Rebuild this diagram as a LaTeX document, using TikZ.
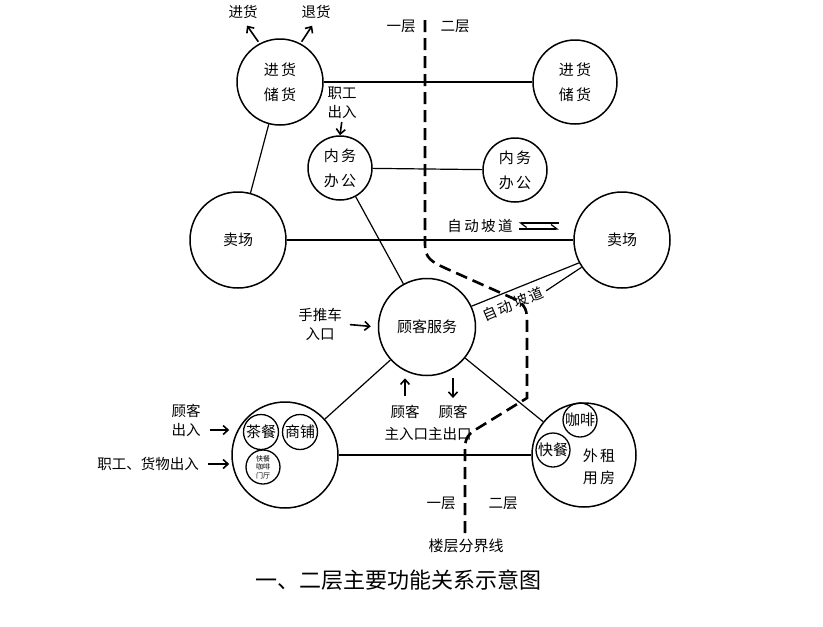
\documentclass[tikz,border=0pt]{standalone}
\usepackage{fontspec}
\setmainfont{Noto Sans CJK SC}
\usetikzlibrary{arrows.meta,positioning}

\begin{document}
\begin{tikzpicture}[
  x=1pt, y=-1pt,
  zone/.style={draw, circle, line width=1.5pt, inner sep=0pt, align=center, font=\fontsize{15}{25}\selectfont},
  sub/.style={draw, circle, line width=1.3pt, inner sep=0pt, align=center, minimum size=35pt, font=\fontsize{15}{15}\selectfont},
  lbl/.style={align=center, inner sep=1pt, font=\fontsize{14.5}{19}\selectfont},
  link/.style={line width=1.2pt},
  arrow/.style={-{Straight Barb[length=5pt, width=9pt]}, line width=1.6pt},
  floorline/.style={line width=2.6pt, dash pattern=on 12pt off 6pt}
]
\useasboundingbox (0,0) rectangle (823,627);

% zones, left = first floor, right = second floor
\node[zone, minimum size=86pt] (jhL) at (280,82) {进\,货\\储\,货};
\node[zone, minimum size=84pt] (jhR) at (575,82) {进\,货\\储\,货};
\node[zone, minimum size=64pt] (nwL) at (340,168) {内\,务\\办\,公};
\node[zone, minimum size=64pt] (nwR) at (515,170) {内\,务\\办\,公};
\node[zone, minimum size=96pt] (mcL) at (238,240) {卖场};
\node[zone, minimum size=96pt] (mcR) at (622,240) {卖场};
\node[zone, minimum size=97pt] (kefu) at (427,327) {顾客服务};
\node[zone, minimum size=106pt] (shopL) at (285,455) {};
\node[zone, minimum size=104pt] (shopR) at (584,455) {};

% small units inside the bottom zones
\node[sub] (chacan) at (261,432) {茶餐};
\node[sub] (shangpu) at (300,432) {商铺};
\node[sub, minimum size=34pt, font=\fontsize{7}{8.5}\selectfont] (kcmt) at (263,467) {快餐\\咖啡\\门厅};
\node[sub, minimum size=34pt] (kafei) at (580,420) {咖啡};
\node[sub, minimum size=34pt] (kuaican) at (553,450) {快餐};
\node[lbl, font=\fontsize{15}{22}\selectfont] (waizu) at (599,467) {外\,租\\用\,房};

% relations
\draw[link] (jhL) -- (jhR);
\draw[link] (nwL) -- (nwR);
\draw[link] (mcL) -- (mcR);
\draw[link] (jhL) -- (mcL);
\draw[link] (nwL) -- (kefu);
\draw[link] (kefu) -- (shopL);
\draw[link] (kefu) -- (shopR);
\draw[link] (shopL) -- (shopR);

% ramps
\node[lbl] (zdA) at (480,226) {自\,动\,坡\,道};
\draw[line width=1.2pt, -{Straight Barb[left, length=6pt, width=9pt]}] ([xshift=5pt, yshift=-3pt]zdA.east) -- ++(40,0);
\draw[line width=1.2pt, -{Straight Barb[left, length=6pt, width=9pt]}] ([xshift=45pt, yshift=3pt]zdA.east) -- ++(-40,0);
\draw[link] (kefu.25) -- (mcR.208);
\node[lbl, rotate=23] (zdB) at (513,304) {自\,动\,坡\,道};
\draw[link] ([xshift=2pt]zdB.east) -- (mcR.214);

% entrances and exits
\node[lbl] (jinhuo) at (243,12) {进货};
\node[lbl] (tuihuo) at (316,12) {退货};
\draw[arrow, shorten <=2pt, shorten >=7pt] (jhL.118) -- (jinhuo.south);
\draw[arrow, shorten <=2pt, shorten >=7pt] (jhL.62) -- (tuihuo.south);

\node[lbl] (zgcr) at (342,103) {职工\\出入};
\draw[arrow, shorten <=2pt] (zgcr.south) -- (nwL.north);

\node[lbl] (tuiche) at (320,324) {手推车\\入口};
\draw[arrow, shorten <=7pt, shorten >=7pt] (tuiche.east) -- (kefu.west);

\node[lbl] (gk1) at (405,412) {顾客};
\node[lbl] (gk2) at (453,412) {顾客};
\node[lbl] (zkou) at (428,434) {主入口主出口};
\draw[arrow, shorten <=8pt, shorten >=2pt] (gk1.north) -- (gk1.north |- kefu.south);
\draw[arrow, shorten <=2pt, shorten >=6pt] (gk2.north |- kefu.south) -- (gk2.north);

\node[lbl] (crIn) at (186,430) {出入};
\node[lbl, above=3pt of crIn] (crGk) {顾客};
\draw[arrow, shorten <=8pt, shorten >=2pt] (crIn.east) -- (crIn.east -| shopL.west);
\node[lbl] (zghw) at (148,464) {职工、货物出入};
\draw[arrow, shorten <=8pt, shorten >=2pt] (zghw.east) -- (zghw.east -| shopL.west);

% floor boundary
\draw[floorline] (425,20) -- (425,245) .. controls (425,258) and (432,262) .. (445,268)
  -- (510,297) .. controls (524,303) and (527,308) .. (527,320) -- (527,398)
  -- (475,430) .. controls (466,436) and (465,440) .. (465,452) -- (465,538);
\node[lbl] (yiT) at (401,26) {一层};
\node[lbl] (erT) at (455,26) {二层};
\node[lbl] (yiB) at (441,503) {一层};
\node[lbl] (erB) at (503,503) {二层};
\node[lbl, font=\fontsize{15}{15}\selectfont] (fjx) at (466,546) {楼层分界线};

\node[lbl, font=\fontsize{22}{22}\selectfont] (title) at (398,580) {一、二层主要功能关系示意图};
\end{tikzpicture}
\end{document}
